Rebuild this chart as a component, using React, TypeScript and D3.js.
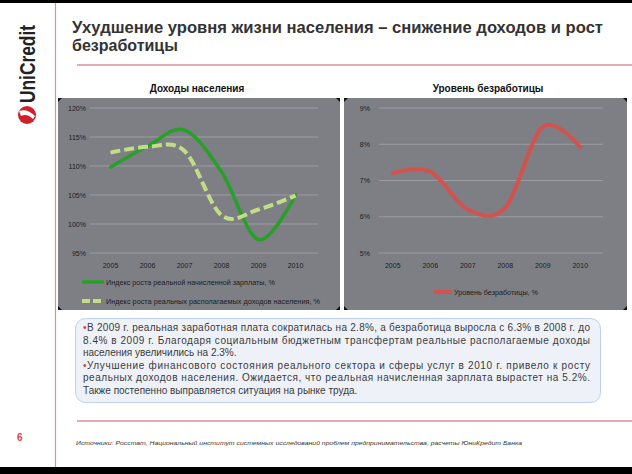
import React from 'react';
import * as d3 from 'd3';

const years = ['2005', '2006', '2007', '2008', '2009', '2010'];
const wageIndex = [109.8, 113.4, 116.2, 109.0, 97.3, 105.0];
const incomeIndex = [112.3, 113.3, 112.6, 101.5, 102.5, 104.9];
const unemployment = [7.2, 7.25, 6.2, 6.25, 8.48, 7.92];
const incomeTicks = [95, 100, 105, 110, 115, 120];
const unempTicks = [5, 6, 7, 8, 9];

const titleLine1 = 'Ухудшение уровня жизни населения – снижение доходов и рост';
const titleLine2 = 'безработицы';
const leftTitle = 'Доходы населения';
const rightTitle = 'Уровень безработицы';
const wageLegend = 'Индекс роста реальной начисленной зарплаты, %';
const incomeLegend = 'Индекс роста реальных располагаемых доходов населения, %';
const unempLegend = 'Уровень безработицы, %';
const bodyLines = [
  { text: 'В 2009 г. реальная заработная плата сократилась на 2.8%, а безработица выросла с 6.3% в 2008 г. до', bullet: true, justify: true },
  { text: '8.4% в 2009 г. Благодаря социальным бюджетным трансфертам реальные располагаемые доходы', bullet: false, justify: true },
  { text: 'населения увеличились на 2.3%.', bullet: false, justify: false },
  { text: 'Улучшение финансового состояния реального сектора и сферы услуг в 2010 г. привело к росту', bullet: true, justify: true },
  { text: 'реальных доходов населения. Ожидается, что реальная начисленная зарплата вырастет на 5.2%.', bullet: false, justify: true },
  { text: 'Также постепенно выправляется ситуация на рынке труда.', bullet: false, justify: false },
];
const sourceText = 'Источники: Росстат, Национальный институт системных исследований проблем предпринимательства, расчеты ЮниКредит Банка';

const FONT = '"Liberation Sans", Arial, sans-serif';
const PANEL = '#7e7f85';
const GRID = '#9c9da2';
const PINK = '#d98f9c';

function Corners({ x0, y0, x1, y1 }: { x0: number; y0: number; x1: number; y1: number }) {
  const s = 4;
  return (
    <g fill="#111">
      <path d={`M${x0},${y0}L${x0 + s},${y0}L${x0},${y0 + s}Z`} />
      <path d={`M${x1},${y0}L${x1 - s},${y0}L${x1},${y0 + s}Z`} />
      <path d={`M${x0},${y1}L${x0 + s},${y1}L${x0},${y1 - s}Z`} />
      <path d={`M${x1},${y1}L${x1 - s},${y1}L${x1},${y1 - s}Z`} />
    </g>
  );
}

export default function App() {
  // Left chart
  const xL = d3.scalePoint<string>().domain(years).range([92, 314]).padding(0.5);
  const yL = d3.scaleLinear().domain([95, 120]).range([253, 108]);
  const lineL = (vals: number[]) =>
    d3.line<number>().x((_, i) => xL(years[i]) as number).y((v) => yL(v)).curve(d3.curveCardinal.tension(0))(vals) || '';

  // Right chart
  const xR = d3.scalePoint<string>().domain(years).range([374, 599]).padding(0.5);
  const yR = d3.scaleLinear().domain([5, 9]).range([253, 108]);
  const lineR = d3
    .line<number>()
    .x((_, i) => xR(years[i]) as number)
    .y((v) => yR(v))
    .curve(d3.curveCardinal.tension(0))(unemployment) || '';

  const lineY0 = 331;
  const lineStep = 12.5;

  return (
    <svg width={632} height={474} style={{ position: 'absolute', left: 0, top: 0, background: '#fff' }} fontFamily={FONT}>
      <rect x={0} y={0} width={632} height={474} fill="#fff" />
      {/* frame */}
      <rect x={0} y={0} width={632} height={3} fill="#000" />
      <rect x={0} y={467} width={632} height={7} fill="#000" />
      <line x1={55.5} y1={3} x2={55.5} y2={467} stroke={PINK} strokeWidth={1.2} />

      {/* logo */}
      <text transform="translate(35,103) rotate(-90)" fontSize={22} fontWeight="bold" fill="#222" textLength={78} lengthAdjust="spacingAndGlyphs">
        UniCredit
      </text>
      <circle cx={27} cy={115} r={9} fill="#d0202a" />
      <path d="M19,111 Q27,108 35,116 L33,119 Q27,113 21,116 Z" fill="#fff" />
      <text x={17} y={441} fontSize={10} fontWeight="bold" fill="#d04848">6</text>

      {/* title */}
      <text x={72} y={33} fontSize={16} fontWeight="bold" fill="#333" textLength={531} lengthAdjust="spacingAndGlyphs">
        {titleLine1}
      </text>
      <text x={72} y={51} fontSize={16} fontWeight="bold" fill="#333">
        {titleLine2}
      </text>
      <line x1={77} y1={65} x2={632} y2={65} stroke={PINK} strokeWidth={1.5} />

      {/* chart titles */}
      <text x={197} y={92} fontSize={10} fontWeight="bold" fill="#111" textAnchor="middle">{leftTitle}</text>
      <text x={488} y={92} fontSize={10} fontWeight="bold" fill="#111" textAnchor="middle">{rightTitle}</text>

      {/* left panel */}
      <rect x={58} y={98} width={282} height={212} fill={PANEL} />
      <Corners x0={58} y0={98} x1={340} y1={310} />
      {incomeTicks.map((t) => (
        <g key={'gl' + t}>
          <line x1={90} x2={318} y1={yL(t)} y2={yL(t)} stroke={GRID} strokeWidth={1} />
          <text x={86} y={yL(t) + 2.5} fontSize={7} fill="#1c1c1c" textAnchor="end">{t}%</text>
        </g>
      ))}
      {years.map((y) => (
        <text key={'xl' + y} x={xL(y) as number} y={268} fontSize={7} fill="#1c1c1c" textAnchor="middle">{y}</text>
      ))}
      <path d={lineL(wageIndex)} fill="none" stroke="#28a028" strokeWidth={3.5} strokeLinecap="round" />
      <path d={lineL(incomeIndex)} fill="none" stroke="#c2dd86" strokeWidth={4} strokeDasharray="10 4" />
      <line x1={82} x2={104} y1={282} y2={282} stroke="#28a028" strokeWidth={3.5} />
      <text x={106} y={284.5} fontSize={7} fill="#1c1c1c" textLength={169} lengthAdjust="spacingAndGlyphs">{wageLegend}</text>
      <line x1={82} x2={104} y1={301} y2={301} stroke="#c2dd86" strokeWidth={4} strokeDasharray="8 3" />
      <text x={106} y={303.5} fontSize={7} fill="#1c1c1c" textLength={214} lengthAdjust="spacingAndGlyphs">{incomeLegend}</text>

      {/* right panel */}
      <rect x={344} y={98} width={283} height={212} fill={PANEL} />
      <Corners x0={344} y0={98} x1={627} y1={310} />
      {unempTicks.map((t) => (
        <g key={'gr' + t}>
          <line x1={379} x2={603} y1={yR(t)} y2={yR(t)} stroke={GRID} strokeWidth={1} />
          <text x={370} y={yR(t) + 2.5} fontSize={7} fill="#1c1c1c" textAnchor="end">{t}%</text>
        </g>
      ))}
      {years.map((y) => (
        <text key={'xr' + y} x={xR(y) as number} y={268} fontSize={7} fill="#1c1c1c" textAnchor="middle">{y}</text>
      ))}
      <path d={lineR} fill="none" stroke="#d4524e" strokeWidth={4} strokeLinecap="round" />
      <line x1={434} x2={452} y1={292} y2={292} stroke="#d4524e" strokeWidth={4} />
      <text x={454} y={294.5} fontSize={7} fill="#1c1c1c" textLength={84} lengthAdjust="spacingAndGlyphs">{unempLegend}</text>

      {/* text box */}
      <rect x={75.5} y={318.5} width={525} height={84} rx={10} ry={10} fill="#eef2f8" stroke="#bcd0e8" strokeWidth={1} />
      {bodyLines.map((l, i) => {
        const y = lineY0 + i * lineStep;
        const x0 = 83;
        const tx = l.bullet ? x0 + 4 : x0;
        return (
          <g key={'bl' + i}>
            {l.bullet && <text x={x0} y={y} fontSize={10} fill="#d23c3c">•</text>}
            <text
              x={tx}
              y={y}
              fontSize={10}
              fill="#3a3a3a"
              {...(l.justify ? { textLength: 590 - tx, lengthAdjust: 'spacing' } : {})}
            >
              {l.text}
            </text>
          </g>
        );
      })}

      {/* bottom */}
      <line x1={77} y1={421} x2={632} y2={421} stroke={PINK} strokeWidth={1.5} />
      <text x={76} y={445} fontSize={5.5} fontStyle="italic" fill="#333" textLength={446} lengthAdjust="spacingAndGlyphs">{sourceText}</text>
    </svg>
  );
}
